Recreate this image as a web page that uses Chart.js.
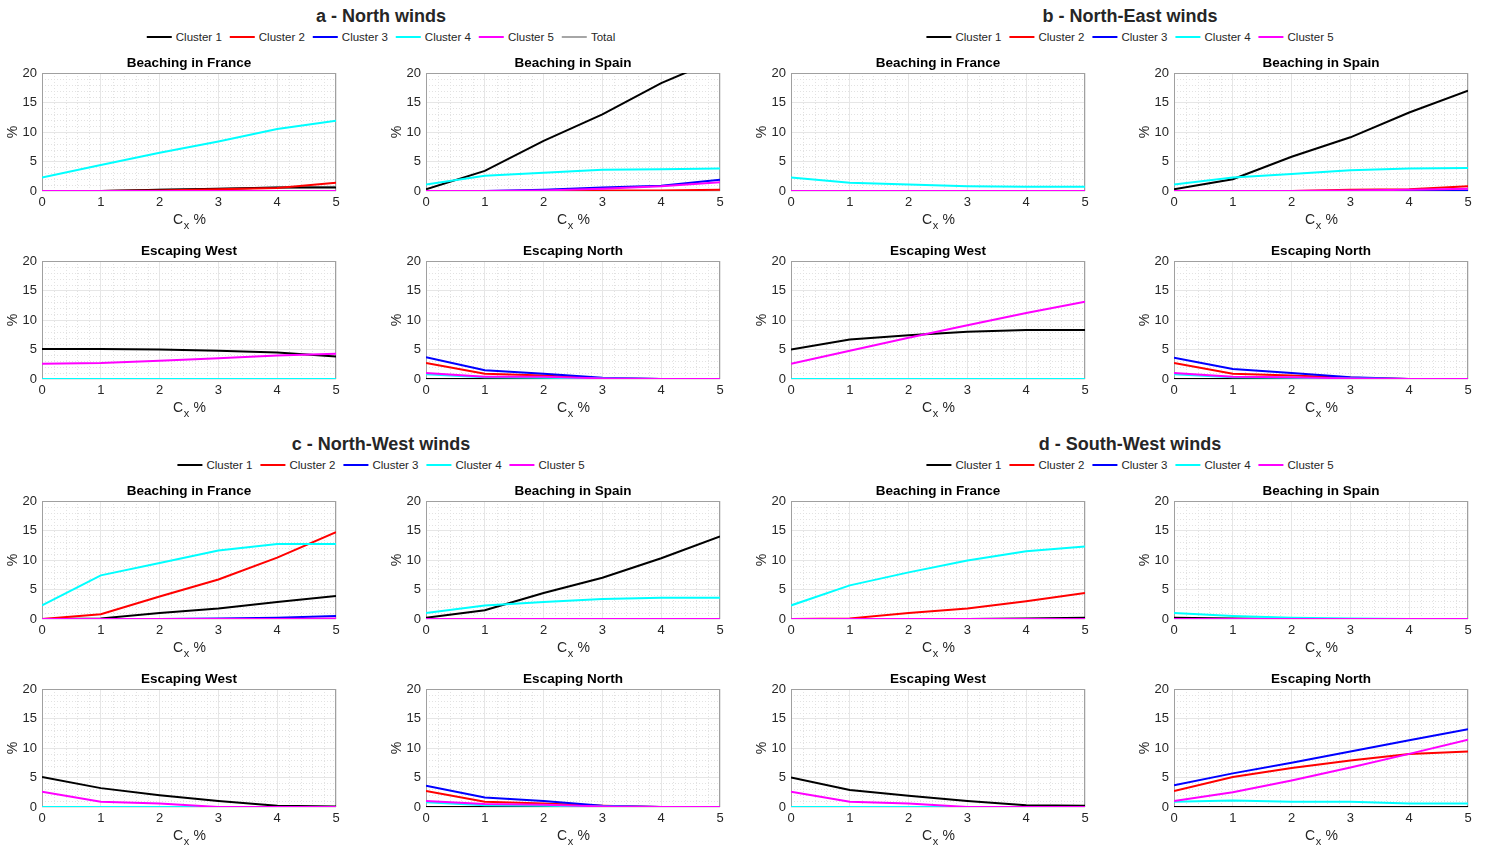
<!DOCTYPE html>
<html>
<head>
<meta charset="utf-8">
<script src="https://cdn.jsdelivr.net/npm/chart.js@4.4.1/dist/chart.umd.min.js"></script>
<style>
body { margin: 0; background: #fff; width: 1488px; height: 852px; position: relative; overflow: hidden;
       font-family: "Liberation Sans", Helvetica, Arial, sans-serif; }
.gt { position: absolute; font-weight: bold; font-size: 18px; line-height: 20px; color: #262626;
      transform: translateX(-50%); white-space: nowrap; }
.lg { position: absolute; display: flex; align-items: center; transform: translateX(-50%);
      font-size: 11.5px; line-height: 13px; color: #262626; white-space: nowrap; }
.lg .it { display: flex; align-items: center; margin: 0 4px; }
.lg .sw { display: inline-block; width: 25px; height: 2px; margin-right: 4px; }
canvas { position: absolute; }
</style>
</head>
<body>
<script>
// x values (Cx %) and axis ticks
const cx = [0, 1, 2, 3, 4, 5];
const xTickValues = [0, 1, 2, 3, 4, 5];
const yTickValues = [0, 5, 10, 15, 20];

const seriesNames = ['Cluster 1', 'Cluster 2', 'Cluster 3', 'Cluster 4', 'Cluster 5', 'Total'];
const seriesColors = ['#000000', '#ff0000', '#0000ff', '#00ffff', '#ff00ff', '#a6a6a6'];
const zeros = [0, 0, 0, 0, 0, 0];

// a - North winds (cluster 1..5, total)
const nFrance = [[0, 0, 0.2, 0.4, 0.6, 0.6], [0, 0, 0.1, 0.3, 0.5, 1.4], zeros,
                 [2.3, 4.4, 6.5, 8.4, 10.5, 11.9], zeros, [0, 0, 0.2, 0.4, 0.6, 0.7]];
const nSpain = [[0.3, 3.4, 8.5, 13.0, 18.3, 22.5], [0, 0, 0, 0.1, 0.1, 0.2], [0, 0, 0.2, 0.6, 0.9, 1.9],
                [1.1, 2.6, 3.1, 3.6, 3.7, 3.8], [0, 0, 0.1, 0.4, 0.8, 1.5], zeros];
const nWest = [[5.1, 5.1, 5.0, 4.8, 4.5, 3.8], zeros, zeros, zeros, [2.6, 2.7, 3.1, 3.5, 4.0, 4.3], zeros];
const nNorth = [zeros, [2.7, 0.9, 0.6, 0.1, 0, 0], [3.7, 1.5, 0.9, 0.2, 0, 0],
                [0.8, 0.3, 0.2, 0.1, 0, 0], [1.0, 0.4, 0.4, 0.1, 0, 0], zeros];

// b - North-East winds
const neFrance = [zeros, zeros, zeros, [2.3, 1.4, 1.1, 0.8, 0.7, 0.7], zeros];
const neSpain = [[0.3, 2.0, 5.8, 9.1, 13.3, 17.0], [0, 0, 0, 0.2, 0.3, 0.8], [0, 0, 0, 0, 0.1, 0.1],
                 [1.1, 2.3, 2.9, 3.5, 3.8, 3.9], [0, 0, 0, 0.1, 0.2, 0.4]];
const neWest = [[5.0, 6.7, 7.4, 8.0, 8.3, 8.3], zeros, zeros, zeros, [2.6, 4.8, 7.0, 9.1, 11.2, 13.1]];
const neNorth = [zeros, [2.7, 0.9, 0.6, 0.2, 0, 0], [3.6, 1.7, 1.0, 0.3, 0, 0],
                 [0.8, 0.3, 0.2, 0.1, 0, 0], [1.0, 0.4, 0.3, 0.1, 0, 0]];

// c - North-West winds
const nwFrance = [[0, 0.1, 1.0, 1.8, 2.9, 3.9], [0, 0.8, 3.8, 6.7, 10.4, 14.7], [0, 0, 0, 0.1, 0.2, 0.5],
                  [2.3, 7.4, 9.5, 11.6, 12.7, 12.7], [0, 0, 0, 0, 0, 0.1]];
const nwSpain = [[0.2, 1.5, 4.4, 7.0, 10.3, 14.0], zeros, zeros, [1.0, 2.3, 2.9, 3.4, 3.6, 3.6], zeros];
const nwWest = [[5.1, 3.2, 2.0, 1.0, 0.2, 0.1], zeros, zeros, zeros, [2.6, 0.9, 0.6, 0, 0, 0]];
const nwNorth = [zeros, [2.7, 0.9, 0.6, 0.2, 0, 0], [3.6, 1.6, 1.0, 0.2, 0, 0],
                 [0.8, 0.3, 0.2, 0.1, 0, 0], [1.0, 0.5, 0.4, 0.1, 0, 0]];

// d - South-West winds
const swFrance = [[0, 0, 0, 0, 0.1, 0.2], [0, 0.1, 1.0, 1.8, 3.0, 4.4], zeros,
                  [2.3, 5.7, 7.9, 9.9, 11.5, 12.3], zeros];
const swSpain = [[0.2, 0.1, 0, 0, 0, 0], zeros, zeros, [1.0, 0.5, 0.2, 0.1, 0, 0], zeros];
const swWest = [[5.0, 2.9, 1.9, 1.0, 0.3, 0.2], zeros, zeros, zeros, [2.6, 0.9, 0.6, 0, 0, 0]];
const swNorth = [zeros, [2.7, 5.1, 6.6, 7.9, 9.0, 9.4], [3.7, 5.7, 7.5, 9.4, 11.3, 13.2],
                 [0.9, 1.1, 0.9, 0.9, 0.6, 0.6], [1.0, 2.5, 4.5, 6.7, 9.0, 11.4]];

const groups = [
    { title: 'a - North winds', cx: 381, cy: 16, legendY: 37, names: 6 },
    { title: 'b - North-East winds', cx: 1130, cy: 16, legendY: 37, names: 5 },
    { title: 'c - North-West winds', cx: 381, cy: 444, legendY: 465, names: 5 },
    { title: 'd - South-West winds', cx: 1130, cy: 444, legendY: 465, names: 5 }
];

const colLeft = [42, 426, 791, 1174];
const rowTop = [73, 261, 501, 689];

const panels = [
    [nFrance, 'Beaching in France', 0, 0], [nSpain, 'Beaching in Spain', 1, 0],
    [nWest, 'Escaping West', 0, 1], [nNorth, 'Escaping North', 1, 1],
    [neFrance, 'Beaching in France', 2, 0], [neSpain, 'Beaching in Spain', 3, 0],
    [neWest, 'Escaping West', 2, 1], [neNorth, 'Escaping North', 3, 1],
    [nwFrance, 'Beaching in France', 0, 2], [nwSpain, 'Beaching in Spain', 1, 2],
    [nwWest, 'Escaping West', 0, 3], [nwNorth, 'Escaping North', 1, 3],
    [swFrance, 'Beaching in France', 2, 2], [swSpain, 'Beaching in Spain', 3, 2],
    [swWest, 'Escaping West', 2, 3], [swNorth, 'Escaping North', 3, 3]
];

const FONT = '"Liberation Sans", Helvetica, Arial, sans-serif';
const TXT = '#262626';

// group titles + legends
groups.forEach(g => {
    const t = document.createElement('div');
    t.className = 'gt';
    t.textContent = g.title;
    t.style.left = g.cx + 'px';
    t.style.top = (g.cy - 10) + 'px';
    document.body.appendChild(t);

    const lg = document.createElement('div');
    lg.className = 'lg';
    lg.style.left = g.cx + 'px';
    lg.style.top = (g.legendY - 6.5) + 'px';
    for (let i = 0; i < g.names; i++) {
        const it = document.createElement('div');
        it.className = 'it';
        const sw = document.createElement('span');
        sw.className = 'sw';
        sw.style.background = seriesColors[i];
        it.appendChild(sw);
        it.appendChild(document.createTextNode(seriesNames[i]));
        lg.appendChild(it);
    }
    document.body.appendChild(lg);
});

// minor grid, box and axis texts like a matlab axes
const axesDecor = {
    id: 'axesDecor',
    beforeDatasetsDraw(chart) {
        const { ctx, chartArea: a, scales: { x, y } } = chart;
        ctx.save();
        ctx.lineWidth = 1;
        ctx.strokeStyle = '#e2e2e2';
        ctx.setLineDash([1, 2]);
        for (let i = 1; i < 25; i++) {
            if (i % 5 === 0) continue;
            const px = Math.round(x.getPixelForValue(i / 5)) + 0.5;
            ctx.beginPath(); ctx.moveTo(px, a.top); ctx.lineTo(px, a.bottom); ctx.stroke();
        }
        for (let v = 1; v < 20; v++) {
            if (v % 5 === 0) continue;
            const py = Math.round(y.getPixelForValue(v)) + 0.5;
            ctx.beginPath(); ctx.moveTo(a.left, py); ctx.lineTo(a.right, py); ctx.stroke();
        }
        ctx.setLineDash([]);
        ctx.strokeStyle = '#a0a0a0';
        ctx.strokeRect(a.left + 0.5, a.top + 0.5, a.width - 1, a.height - 1);
        ctx.restore();
    },
    afterDraw(chart, args, opts) {
        const { ctx, chartArea: a } = chart;
        const mid = (a.left + a.right) / 2;
        ctx.save();
        ctx.fillStyle = '#000';
        ctx.textAlign = 'center';
        ctx.textBaseline = 'middle';
        ctx.font = 'bold 13.5px ' + FONT;
        ctx.fillText(opts.title, mid, a.top - 10);

        // x label: C with subscript x, then %
        ctx.fillStyle = TXT;
        ctx.textAlign = 'left';
        ctx.textBaseline = 'alphabetic';
        const big = '14px ' + FONT, small = '11px ' + FONT;
        ctx.font = big;
        const wC = ctx.measureText('C').width, wP = ctx.measureText(' %').width;
        ctx.font = small;
        const wx = ctx.measureText('x').width;
        let xs = mid - (wC + wx + wP) / 2;
        const base = a.bottom + 33;
        ctx.font = big; ctx.fillText('C', xs, base);
        ctx.font = small; ctx.fillText('x', xs + wC + 0.5, base + 5);
        ctx.font = big; ctx.fillText(' %', xs + wC + wx + 1, base);

        // y label
        ctx.translate(a.left - 29, (a.top + a.bottom) / 2);
        ctx.rotate(-Math.PI / 2);
        ctx.textAlign = 'center';
        ctx.textBaseline = 'middle';
        ctx.font = '14px ' + FONT;
        ctx.fillText('%', 0, 0);
        ctx.restore();
    }
};

panels.forEach(([vals, title, col, row]) => {
    const L = colLeft[col], T = rowTop[row];
    const cv = document.createElement('canvas');
    cv.width = 348; cv.height = 186;
    cv.style.left = (L - 42) + 'px';
    cv.style.top = (T - 26) + 'px';
    document.body.appendChild(cv);

    const datasets = vals.map((v, i) => ({
        label: seriesNames[i],
        data: cx.map((x, k) => ({ x: x, y: v[k] })),
        borderColor: seriesColors[i],
        borderWidth: 2,
        pointRadius: 0,
        tension: 0,
        order: i === 5 ? 10 : -i
    }));

    new Chart(cv, {
        type: 'line',
        data: { datasets },
        plugins: [axesDecor],
        options: {
            responsive: false,
            animation: false,
            devicePixelRatio: 1,
            layout: { padding: { top: 26, right: 12, left: 0, bottom: 0 } },
            plugins: {
                legend: { display: false },
                tooltip: { enabled: false },
                axesDecor: { title: title }
            },
            scales: {
                x: {
                    type: 'linear', min: 0, max: 5,
                    afterBuildTicks: s => { s.ticks = xTickValues.map(v => ({ value: v })); },
                    afterFit: s => { s.height = 42; },
                    ticks: { color: TXT, font: { family: FONT, size: 13 }, padding: 4, maxRotation: 0 },
                    grid: { color: '#e6e6e6', drawTicks: false },
                    border: { display: false }
                },
                y: {
                    min: 0, max: 20,
                    afterBuildTicks: s => { s.ticks = yTickValues.map(v => ({ value: v })); },
                    afterFit: s => { s.width = 42; },
                    ticks: { color: TXT, font: { family: FONT, size: 13 }, padding: 5 },
                    grid: { color: '#e6e6e6', drawTicks: false },
                    border: { display: false }
                }
            }
        }
    });
});
</script>
</body>
</html>
